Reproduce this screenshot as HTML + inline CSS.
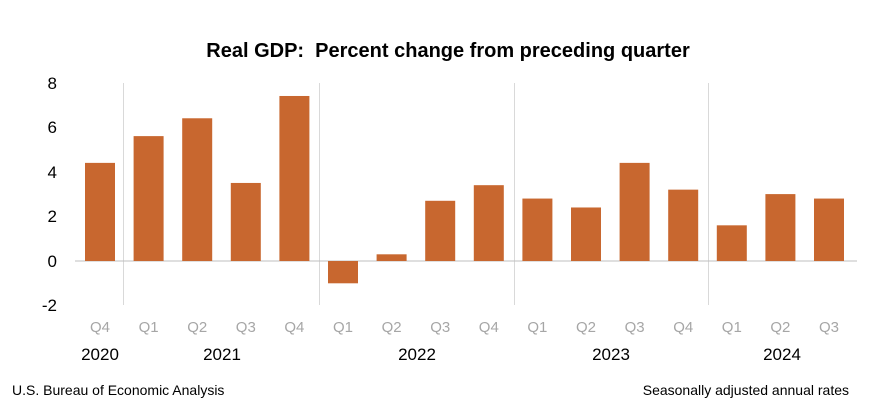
<!DOCTYPE html>
<html><head><meta charset="utf-8"><style>
body{margin:0;background:#fff}
svg{display:block;font-family:"Liberation Sans",Arial,sans-serif}
</style></head><body>
<svg width="878" height="417" viewBox="0 0 878 417">
<rect width="878" height="417" fill="#fff"/>
<text x="448" y="57" font-size="20" font-weight="bold" text-anchor="middle" fill="#000" style="white-space:pre">Real GDP:  Percent change from preceding quarter</text>
<g font-size="17" fill="#000" text-anchor="end">
<text x="57" y="89">8</text>
<text x="57" y="133">6</text>
<text x="57" y="178">4</text>
<text x="57" y="222">2</text>
<text x="57" y="267">0</text>
<text x="57" y="311">-2</text>
</g>
<g stroke="#d9d9d9" stroke-width="1">
<line x1="123.5" y1="83" x2="123.5" y2="305"/>
<line x1="319.5" y1="83" x2="319.5" y2="305"/>
<line x1="514.5" y1="83" x2="514.5" y2="305"/>
<line x1="708.5" y1="83" x2="708.5" y2="305"/>
</g>
<line x1="75" y1="261" x2="857" y2="261" stroke="#bfbfbf" stroke-width="1"/>
<g fill="#C8672F" id="bars"></g>
<g font-size="15" fill="#a6a6a6" text-anchor="middle" id="q"></g>
<g font-size="17" fill="#000" text-anchor="middle">
<text x="100" y="360">2020</text>
<text x="222" y="360">2021</text>
<text x="417" y="360">2022</text>
<text x="611" y="360">2023</text>
<text x="782" y="360">2024</text>
</g>
<text x="12" y="395" font-size="14" fill="#000">U.S. Bureau of Economic Analysis</text>
<text x="849" y="395" font-size="14" fill="#000" text-anchor="end">Seasonally adjusted annual rates</text>
</svg>
<script>
var v=[4.4,5.6,6.4,3.5,7.4,-1.0,0.3,2.7,3.4,2.8,2.4,4.4,3.2,1.6,3.0,2.8];
var q=["Q4","Q1","Q2","Q3","Q4","Q1","Q2","Q3","Q4","Q1","Q2","Q3","Q4","Q1","Q2","Q3"];
var ns="http://www.w3.org/2000/svg",b=document.getElementById("bars"),g=document.getElementById("q");
for(var i=0;i<16;i++){var c=75.7+48.6*(i+0.5);var r=document.createElementNS(ns,"rect");
var y0=261,y1=261-v[i]*22.3;r.setAttribute("x",c-15);r.setAttribute("width",30);
r.setAttribute("y",Math.min(y0,y1));r.setAttribute("height",Math.abs(y1-y0));b.appendChild(r);
var t=document.createElementNS(ns,"text");t.setAttribute("x",c);t.setAttribute("y",332);t.textContent=q[i];g.appendChild(t);}
</script>
</body></html>
